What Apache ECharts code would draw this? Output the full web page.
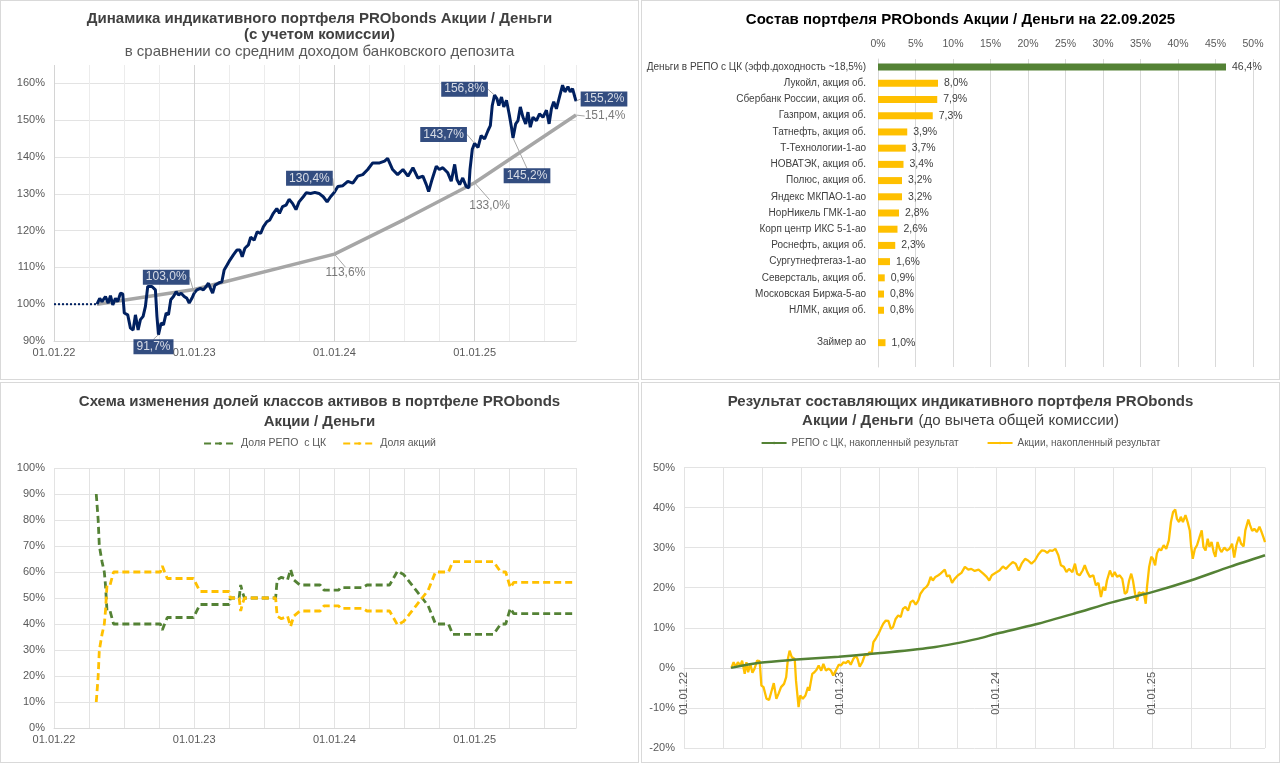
<!DOCTYPE html>
<html>
<head>
  <meta charset="UTF-8">
  <title>PRObonds Акции / Деньги</title>
  <style>
    body { margin: 0; background: #fff; }
    .panel {
      position: absolute;
      box-sizing: border-box;
      border: 1px solid #d9d9d9;
      background: #fff;
    }
    #c1 { left: 0; top: 0; width: 639px; height: 380px; }
    #c2 { left: 641px; top: 0; width: 639px; height: 380px; }
    #c3 { left: 0; top: 382px; width: 639px; height: 381px; }
    #c4 { left: 641px; top: 382px; width: 639px; height: 381px; }
  </style>
  <script src="https://cdn.jsdelivr.net/npm/echarts@6/dist/echarts.min.js"></script>
</head>
<body>
<div id="c1" class="panel"></div>
<div id="c2" class="panel"></div>
<div id="c3" class="panel"></div>
<div id="c4" class="panel"></div>

<script type="text/javascript">
  // ---- данные ----
  // индикативный портфель, % (с учетом комиссии)
  const portfolio = [
    ['2022-04-23', 100.0], ['2022-04-30', 101.6], ['2022-05-06', 100.7], ['2022-05-15', 102.1], ['2022-05-22', 100.3],
    ['2022-05-28', 102.3], ['2022-06-03', 99.8], ['2022-06-10', 101.6], ['2022-06-16', 100.7], ['2022-06-23', 103.0],
    ['2022-06-29', 102.8], ['2022-07-03', 97.6], ['2022-07-12', 97.1], ['2022-07-19', 93.5], ['2022-07-26', 93.0],
    ['2022-08-01', 97.1], ['2022-08-08', 93.0], ['2022-08-14', 95.8], ['2022-08-21', 96.7], ['2022-08-27', 99.4],
    ['2022-09-02', 104.8], ['2022-09-13', 104.8], ['2022-09-22', 103.9], ['2022-09-26', 96.7], ['2022-09-30', 91.7],
    ['2022-10-07', 94.9], ['2022-10-13', 94.4], ['2022-10-20', 97.6], ['2022-10-26', 97.1], ['2022-11-01', 101.2],
    ['2022-11-08', 102.1], ['2022-11-15', 103.4], ['2022-11-21', 102.5], ['2022-11-28', 103.0], ['2022-12-06', 102.1],
    ['2022-12-13', 101.6], ['2022-12-19', 100.3], ['2022-12-26', 101.6], ['2023-01-01', 103.0], ['2023-01-08', 103.9],
    ['2023-01-17', 104.3], ['2023-01-25', 103.9], ['2023-02-01', 104.8], ['2023-02-07', 105.7], ['2023-02-14', 103.9],
    ['2023-02-18', 103.0], ['2023-02-24', 105.2], ['2023-03-05', 105.7], ['2023-03-14', 106.1], ['2023-03-20', 109.3],
    ['2023-03-28', 110.7], ['2023-04-04', 112.0], ['2023-04-13', 113.4], ['2023-04-22', 114.7], ['2023-04-30', 114.7],
    ['2023-05-06', 112.9], ['2023-05-13', 115.2], ['2023-05-22', 116.1], ['2023-05-28', 118.2], ['2023-06-06', 117.4],
    ['2023-06-14', 119.7], ['2023-06-23', 119.2], ['2023-06-30', 121.0], ['2023-07-09', 122.4], ['2023-07-17', 122.9],
    ['2023-07-26', 124.7], ['2023-08-04', 126.0], ['2023-08-11', 124.7], ['2023-08-19', 126.5], ['2023-08-28', 126.9],
    ['2023-09-05', 128.5], ['2023-09-14', 127.4], ['2023-09-23', 125.7], ['2023-10-01', 127.8], ['2023-10-12', 129.2],
    ['2023-10-20', 130.3], ['2023-10-31', 130.1], ['2023-11-11', 130.4], ['2023-11-22', 130.1], ['2023-12-03', 129.2],
    ['2023-12-13', 127.8], ['2023-12-22', 129.2], ['2024-01-01', 130.4], ['2024-01-10', 132.0], ['2024-01-23', 132.2],
    ['2024-02-05', 133.4], ['2024-02-18', 132.9], ['2024-03-02', 134.8], ['2024-03-15', 135.2], ['2024-03-28', 136.6],
    ['2024-04-10', 138.4], ['2024-04-28', 138.4], ['2024-05-11', 138.9], ['2024-05-19', 139.6], ['2024-06-01', 136.6],
    ['2024-06-14', 135.2], ['2024-06-28', 136.6], ['2024-07-11', 134.8], ['2024-07-24', 137.1], ['2024-08-06', 134.3],
    ['2024-08-19', 134.8], ['2024-08-28', 132.5], ['2024-09-03', 130.6], ['2024-09-12', 133.9], ['2024-09-23', 137.5],
    ['2024-10-01', 136.6], ['2024-10-10', 137.1], ['2024-10-23', 135.7], ['2024-11-01', 133.4], ['2024-11-10', 138.0],
    ['2024-11-16', 133.9], ['2024-11-23', 132.5], ['2024-12-01', 134.3], ['2024-12-10', 132.0], ['2024-12-17', 131.6],
    ['2024-12-20', 136.6], ['2024-12-26', 142.1], ['2025-01-01', 143.7], ['2025-01-10', 142.6], ['2025-01-18', 145.8],
    ['2025-01-27', 144.9], ['2025-02-05', 147.2], ['2025-02-11', 148.5], ['2025-02-16', 154.0], ['2025-02-22', 156.8],
    ['2025-02-28', 155.9], ['2025-03-05', 154.0], ['2025-03-12', 156.3], ['2025-03-18', 153.6], ['2025-03-25', 155.4],
    ['2025-04-01', 151.7], ['2025-04-07', 148.1], ['2025-04-11', 145.2], ['2025-04-18', 149.0], ['2025-04-24', 149.9],
    ['2025-04-30', 153.6], ['2025-05-07', 150.8], ['2025-05-14', 149.0], ['2025-05-20', 152.2], ['2025-05-26', 148.1],
    ['2025-06-02', 150.8], ['2025-06-11', 149.9], ['2025-06-19', 151.7], ['2025-06-28', 150.8], ['2025-07-07', 152.7],
    ['2025-07-14', 149.0], ['2025-07-20', 153.1], ['2025-07-26', 155.0], ['2025-08-02', 153.1], ['2025-08-09', 155.9],
    ['2025-08-18', 159.5], ['2025-08-24', 157.7], ['2025-09-01', 159.1], ['2025-09-07', 157.7], ['2025-09-13', 158.6],
    ['2025-09-19', 156.3], ['2025-09-22', 155.2]
  ];
  const beforeStart = [['2022-01-01', 100.0], ['2022-04-23', 100.0]];
  // средний доход банковского депозита
  const deposit = [['2022-04-23', 100.0], ['2023-01-01', 104.0], ['2024-01-01', 113.6], ['2024-07-01', 123.0],
    ['2025-01-01', 133.0], ['2025-09-22', 151.4]];
  const portfolioMarks = [['2022-09-30', 91.7], ['2023-01-01', 103.0], ['2024-01-01', 130.4], ['2025-01-01', 143.7],
    ['2025-02-22', 156.8], ['2025-04-11', 145.2], ['2025-09-22', 155.2]];
  const depositMarks = [['2024-01-01', 113.6], ['2025-01-01', 133.0], ['2025-09-22', 151.4]];

  // состав портфеля на 22.09.2025
  const assets = ['Деньги в РЕПО с ЦК (эфф.доходность ~18,5%)', 'Лукойл, акция об.', 'Сбербанк России, акция об.',
    'Газпром, акция об.', 'Татнефть, акция об.', 'Т-Технологии-1-ао', 'НОВАТЭК, акция об.', 'Полюс, акция об.',
    'Яндекс МКПАО-1-ао', 'НорНикель ГМК-1-ао', 'Корп центр ИКС 5-1-ао', 'Роснефть, акция об.', 'Сургутнефтегаз-1-ао',
    'Северсталь, акция об.', 'Московская Биржа-5-ао', 'НЛМК, акция об.', ' ', 'Займер ао', '  '];
  const shares = [46.4, 8.0, 7.9, 7.3, 3.9, 3.7, 3.4, 3.2, 3.2, 2.8, 2.6, 2.3, 1.6, 0.9, 0.8, 0.8, null, 1.0, null];

  // доли классов активов, %
  const repoShare = [
    ['2022-04-21', 90], ['2022-04-26', 80], ['2022-04-29', 70], ['2022-05-06', 64], ['2022-05-12', 60], ['2022-05-15', 55],
    ['2022-05-19', 45], ['2022-05-27', 45], ['2022-06-05', 40], ['2022-10-05', 40], ['2022-10-10', 37.7], ['2022-10-16', 40],
    ['2022-10-23', 42.5], ['2022-12-30', 42.5], ['2023-01-16', 47.5], ['2023-04-02', 47.5], ['2023-04-05', 50], ['2023-04-28', 50],
    ['2023-05-02', 55], ['2023-05-07', 52], ['2023-05-12', 50], ['2023-08-01', 50], ['2023-08-05', 57], ['2023-08-16', 58],
    ['2023-09-01', 57], ['2023-09-09', 61], ['2023-09-17', 57], ['2023-10-03', 55], ['2023-11-25', 55], ['2023-12-05', 53],
    ['2024-01-12', 53], ['2024-01-17', 54], ['2024-03-15', 54], ['2024-03-26', 55], ['2024-05-24', 55], ['2024-06-14', 60.4],
    ['2024-06-30', 59], ['2024-07-16', 56], ['2024-08-01', 53], ['2024-08-17', 50], ['2024-09-02', 47], ['2024-09-21', 40],
    ['2024-10-25', 40], ['2024-11-05', 36], ['2025-02-19', 36], ['2025-03-10', 40], ['2025-03-23', 40], ['2025-04-04', 46],
    ['2025-04-13', 44], ['2025-09-22', 44]
  ];
  const stockShare = [
    ['2022-04-21', 10], ['2022-04-26', 20], ['2022-04-29', 30], ['2022-05-06', 36], ['2022-05-12', 40], ['2022-05-15', 45],
    ['2022-05-19', 55], ['2022-05-27', 55], ['2022-06-05', 60], ['2022-10-05', 60], ['2022-10-10', 62.3], ['2022-10-16', 60],
    ['2022-10-23', 57.5], ['2022-12-30', 57.5], ['2023-01-16', 52.5], ['2023-04-02', 52.5], ['2023-04-05', 50], ['2023-04-28', 50],
    ['2023-05-02', 45], ['2023-05-07', 48], ['2023-05-12', 50], ['2023-08-01', 50], ['2023-08-05', 43], ['2023-08-16', 42],
    ['2023-09-01', 43], ['2023-09-09', 39], ['2023-09-17', 43], ['2023-10-03', 45], ['2023-11-25', 45], ['2023-12-05', 47],
    ['2024-01-12', 47], ['2024-01-17', 46], ['2024-03-15', 46], ['2024-03-26', 45], ['2024-05-24', 45], ['2024-06-14', 39.6],
    ['2024-06-30', 41], ['2024-07-16', 44], ['2024-08-01', 47], ['2024-08-17', 50], ['2024-09-02', 53], ['2024-09-21', 60],
    ['2024-10-25', 60], ['2024-11-05', 64], ['2025-02-19', 64], ['2025-03-10', 60], ['2025-03-23', 60], ['2025-04-04', 54],
    ['2025-04-13', 56], ['2025-09-22', 56]
  ];

  // накопленный результат составляющих, %
  const repoResult = [['2022-04-21', 0], ['2022-06-27', 1.25], ['2022-09-12', 2.0], ['2022-12-29', 2.8], ['2023-04-06', 3.7],
    ['2023-08-12', 5.2], ['2023-11-21', 7.3], ['2024-01-01', 8.5], ['2024-04-01', 10.8], ['2024-07-01', 13.5],
    ['2024-10-01', 16.4], ['2025-01-01', 18.9], ['2025-04-01', 21.8], ['2025-07-01', 25.2], ['2025-09-22', 28.1]];
  const stockResult = [
    ['2022-04-22', 0], ['2022-04-27', 1.4], ['2022-05-02', 0.2], ['2022-05-07', 1.4], ['2022-05-13', 0.6], ['2022-05-17', 1.8],
    ['2022-05-23', -1.5], ['2022-05-27', 1.4], ['2022-05-31', -1.1], ['2022-06-05', 1.0], ['2022-06-10', -1.2], ['2022-06-15', -0.2],
    ['2022-06-21', 1.8], ['2022-06-27', 1.7], ['2022-07-01', -4.4], ['2022-07-06', -4.8], ['2022-07-13', -7.7], ['2022-07-19', -8.0],
    ['2022-07-24', -6.1], ['2022-07-30', -3.8], ['2022-08-05', -7.7], ['2022-08-10', -6.5], ['2022-08-16', -4.8], ['2022-08-23', -4.0],
    ['2022-08-28', -2.3], ['2022-09-01', 2.2], ['2022-09-05', 4.3], ['2022-09-10', 2.7], ['2022-09-17', 2.2], ['2022-09-20', -3.2],
    ['2022-09-26', -9.8], ['2022-09-30', -6.9], ['2022-10-06', -7.7], ['2022-10-12', -6.9], ['2022-10-18', -4.8], ['2022-10-21', -5.7],
    ['2022-10-28', -1.5], ['2022-11-02', -1.1], ['2022-11-07', -0.5], ['2022-11-12', 0.6], ['2022-11-18', -0.7], ['2022-11-23', 1.0],
    ['2022-11-29', -0.7], ['2022-12-05', -0.2], ['2022-12-11', -0.7], ['2022-12-16', -1.9], ['2022-12-22', -0.7], ['2022-12-29', 0.8],
    ['2023-01-03', 0.6], ['2023-01-09', 1.4], ['2023-01-15', 1.2], ['2023-01-20', 1.8], ['2023-01-26', 0.8], ['2023-02-01', 2.2],
    ['2023-02-07', 3.1], ['2023-02-11', 2.2], ['2023-02-16', 0.3], ['2023-02-22', 1.4], ['2023-03-01', 3.5], ['2023-03-06', 3.1],
    ['2023-03-11', 3.9], ['2023-03-16', 3.5], ['2023-03-20', 6.4], ['2023-03-25', 7.2], ['2023-04-01', 8.5], ['2023-04-06', 9.7],
    ['2023-04-12', 11.0], ['2023-04-18', 11.8], ['2023-04-24', 11.7], ['2023-04-30', 9.7], ['2023-05-05', 10.2], ['2023-05-11', 12.2],
    ['2023-05-17', 13.1], ['2023-05-23', 12.7], ['2023-05-28', 14.7], ['2023-06-03', 15.2], ['2023-06-09', 14.3], ['2023-06-15', 16.4],
    ['2023-06-21', 16.8], ['2023-06-27', 15.8], ['2023-07-03', 16.8], ['2023-07-08', 18.5], ['2023-07-16', 19.7], ['2023-07-22', 20.2],
    ['2023-07-26', 20.8], ['2023-08-01', 22.7], ['2023-08-06', 21.8], ['2023-08-12', 22.7], ['2023-08-19', 23.1], ['2023-08-24', 23.5],
    ['2023-08-28', 23.9], ['2023-09-03', 24.5], ['2023-09-08', 22.8], ['2023-09-14', 23.1], ['2023-09-20', 21.2], ['2023-09-26', 22.2],
    ['2023-10-04', 23.1], ['2023-10-12', 23.7], ['2023-10-20', 25.2], ['2023-10-28', 24.5], ['2023-11-04', 24.7], ['2023-11-12', 24.2],
    ['2023-11-21', 24.5], ['2023-12-02', 23.5], ['2023-12-10', 22.7], ['2023-12-16', 21.8], ['2023-12-22', 23.1], ['2024-01-03', 23.9],
    ['2024-01-09', 24.3], ['2024-01-17', 25.3], ['2024-01-24', 24.7], ['2024-02-01', 25.6], ['2024-02-09', 26.4], ['2024-02-16', 26.0],
    ['2024-02-23', 24.3], ['2024-03-01', 26.0], ['2024-03-09', 27.2], ['2024-03-16', 26.8], ['2024-03-24', 26.0], ['2024-04-01', 26.8],
    ['2024-04-09', 28.3], ['2024-04-17', 29.3], ['2024-04-24', 29.2], ['2024-04-30', 28.7], ['2024-05-06', 29.3], ['2024-05-12', 29.2],
    ['2024-05-19', 29.7], ['2024-05-26', 28.1], ['2024-06-01', 25.6], ['2024-06-08', 25.2], ['2024-06-14', 23.9], ['2024-06-20', 24.7],
    ['2024-06-28', 23.9], ['2024-07-04', 26.0], ['2024-07-09', 23.5], ['2024-07-15', 23.1], ['2024-07-22', 24.3], ['2024-07-27', 25.6],
    ['2024-08-02', 23.9], ['2024-08-08', 22.7], ['2024-08-16', 23.1], ['2024-08-22', 20.6], ['2024-08-28', 21.2], ['2024-09-03', 17.7],
    ['2024-09-08', 20.2], ['2024-09-13', 19.3], ['2024-09-17', 21.8], ['2024-09-24', 24.3], ['2024-09-30', 22.7], ['2024-10-05', 23.9],
    ['2024-10-11', 22.7], ['2024-10-17', 23.1], ['2024-10-23', 22.2], ['2024-10-29', 18.5], ['2024-11-03', 18.9], ['2024-11-08', 21.8],
    ['2024-11-13', 23.5], ['2024-11-17', 21.8], ['2024-11-22', 18.5], ['2024-11-27', 16.8], ['2024-12-01', 18.9], ['2024-12-07', 18.5],
    ['2024-12-12', 18.9], ['2024-12-17', 16.0], ['2024-12-20', 20.2], ['2024-12-25', 25.2], ['2024-12-30', 27.7], ['2025-01-03', 27.2],
    ['2025-01-08', 25.6], ['2025-01-12', 28.5], ['2025-01-17', 29.7], ['2025-01-22', 29.3], ['2025-01-28', 30.6], ['2025-02-03', 29.7],
    ['2025-02-09', 31.8], ['2025-02-14', 36.4], ['2025-02-19', 38.9], ['2025-02-24', 39.5], ['2025-02-28', 37.2], ['2025-03-05', 36.4],
    ['2025-03-09', 37.7], ['2025-03-14', 36.4], ['2025-03-20', 38.1], ['2025-03-25', 36.4], ['2025-03-30', 34.3], ['2025-04-02', 30.6],
    ['2025-04-06', 27.2], ['2025-04-11', 29.7], ['2025-04-16', 30.6], ['2025-04-22', 32.7], ['2025-04-27', 34.3], ['2025-05-01', 30.2],
    ['2025-05-06', 29.3], ['2025-05-11', 32.2], ['2025-05-15', 30.2], ['2025-05-20', 31.4], ['2025-05-25', 28.9], ['2025-05-29', 27.7],
    ['2025-06-03', 31.4], ['2025-06-08', 29.7], ['2025-06-12', 28.9], ['2025-06-19', 30.0], ['2025-06-25', 29.3], ['2025-07-01', 29.7],
    ['2025-07-07', 31.0], ['2025-07-12', 27.5], ['2025-07-17', 30.6], ['2025-07-23', 32.7], ['2025-07-28', 31.0], ['2025-08-03', 30.3],
    ['2025-08-07', 34.3], ['2025-08-14', 37.0], ['2025-08-18', 35.6], ['2025-08-23', 34.2], ['2025-08-28', 34.7], ['2025-09-03', 33.9],
    ['2025-09-09', 35.2], ['2025-09-14', 33.9], ['2025-09-18', 32.7], ['2025-09-22', 31.4]
  ];

  // ---- оформление ----
  const NAVY = '#002060';
  const GREEN = '#548235';
  const GOLD = '#FFC000';
  const GREY_LINE = '#a6a6a6';
  const TXT = '#595959';
  const FONT = "'Liberation Sans', Arial, sans-serif";

  // дата -> доля года (ось X в годах)
  function yr(s) {
    const p = s.split('-').map(Number);
    const a = Date.UTC(p[0], 0, 1), b = Date.UTC(p[0] + 1, 0, 1);
    return p[0] + (Date.UTC(p[0], p[1] - 1, p[2]) - a) / (b - a);
  }
  const toXY = arr => arr.map(d => [yr(d[0]), d[1]]);
  const END = yr('2025-09-22');
  const pct1 = v => v.toFixed(1).replace('.', ',') + '%';
  const yearLabel = v => Math.abs(v - Math.round(v)) < 1e-6 ? '01.01.' + String(Math.round(v)).slice(2) : '';

  function yearAxis(extra) {
    return Object.assign({
      type: 'value', min: 2022, max: END, interval: 0.25,
      axisLine: { lineStyle: { color: '#d9d9d9' } },
      axisTick: { show: false },
      axisLabel: { color: TXT, fontFamily: FONT, fontSize: 11, margin: 6, formatter: yearLabel },
      splitLine: { show: true, lineStyle: { color: ['#d4d4d4', '#ececec', '#ececec', '#ececec'], width: 1 } }
    }, extra || {});
  }
  const titleStyle = { fontFamily: FONT, fontSize: 15, fontWeight: 'bold', color: '#404040' };

  // ===== 1. Динамика портфеля =====
  const chart1 = echarts.init(document.getElementById('c1'));
  const markOffsets1 = [[-5, 12], [-28, -16], [-25, -14], [-31, -9], [-30, -6], [14, 38], [28, -2]];
  const markOffsets2 = [[11, 19], [15, 23], [29, 1]];
  chart1.setOption({
    animation: false,
    title: [
      { text: 'Динамика индикативного портфеля PRObonds Акции / Деньги', left: 'center', top: 5, textStyle: titleStyle },
      { text: '(с учетом комиссии)', left: 'center', top: 21.5, textStyle: titleStyle },
      { text: 'в сравнении со средним доходом банковского депозита', left: 'center', top: 38.5,
        textStyle: { fontFamily: FONT, fontSize: 15, fontWeight: 'normal', color: '#595959' } }
    ],
    grid: { left: 53, right: 62, top: 64, bottom: 38, containLabel: false, outerBoundsMode: 'none' },
    xAxis: yearAxis(),
    yAxis: {
      type: 'value', min: 90, max: 165, interval: 10,
      axisLine: { show: false }, axisTick: { show: false },
      axisLabel: { color: TXT, fontFamily: FONT, fontSize: 11, margin: 9, formatter: v => v > 160 ? '' : v + '%' },
      splitLine: { showMaxLine: false, lineStyle: { color: '#e3e3e3' } }
    },
    series: [
      { type: 'line', data: toXY(deposit), symbol: 'none', z: 2,
        lineStyle: { color: GREY_LINE, width: 3.5 } },
      { type: 'line', data: toXY(beforeStart), symbol: 'none', z: 3,
        lineStyle: { color: NAVY, width: 2, type: 'dotted' } },
      { type: 'line', data: toXY(portfolio), symbol: 'none', z: 3,
        lineStyle: { color: NAVY, width: 3 } },
      { type: 'scatter', data: toXY(portfolioMarks), symbolSize: 1, z: 5,
        itemStyle: { color: NAVY },
        label: { show: true, position: 'inside', formatter: p => pct1(p.value[1]),
          backgroundColor: NAVY, color: '#fff', padding: [2, 3, 1, 3], fontFamily: FONT, fontSize: 12 },
        labelLine: { show: true, lineStyle: { color: GREY_LINE, width: 1 } },
        labelLayout: p => ({ dx: markOffsets1[p.dataIndex][0], dy: markOffsets1[p.dataIndex][1] }) },
      { type: 'scatter', data: toXY(depositMarks), symbolSize: 1, z: 5,
        itemStyle: { color: GREY_LINE },
        label: { show: true, position: 'inside', formatter: p => pct1(p.value[1]),
          color: '#595959', fontFamily: FONT, fontSize: 12 },
        labelLine: { show: true, lineStyle: { color: GREY_LINE, width: 1 } },
        labelLayout: p => ({ dx: markOffsets2[p.dataIndex][0], dy: markOffsets2[p.dataIndex][1] }) }
    ]
  });

  // ===== 2. Состав портфеля =====
  const chart2 = echarts.init(document.getElementById('c2'));
  chart2.setOption({
    animation: false,
    title: { text: 'Состав портфеля PRObonds Акции / Деньги на 22.09.2025', left: 'center', top: 6,
      textStyle: { fontFamily: FONT, fontSize: 15, fontWeight: 'bold', color: '#000' } },
    grid: { left: 236, right: 26, top: 58, bottom: 12, containLabel: false, outerBoundsMode: 'none' },
    xAxis: {
      type: 'value', position: 'top', min: 0, max: 50, interval: 5,
      axisLine: { show: false }, axisTick: { show: false },
      axisLabel: { color: TXT, fontFamily: FONT, fontSize: 10.5, margin: 9, formatter: '{value}%' },
      splitLine: { lineStyle: { color: '#d9d9d9' } }
    },
    yAxis: {
      type: 'category', inverse: true, data: assets,
      axisLine: { lineStyle: { color: '#d9d9d9' } }, axisTick: { show: false },
      axisLabel: { color: '#404040', fontFamily: FONT, fontSize: 10, margin: 12 }
    },
    series: [{
      type: 'bar', data: shares, barWidth: 7,
      itemStyle: { color: p => p.dataIndex === 0 ? GREEN : GOLD },
      label: { show: true, position: 'right', distance: 6, color: '#404040', fontFamily: FONT, fontSize: 10.5,
        formatter: p => p.value == null ? '' : pct1(p.value) }
    }]
  });

  // ===== 3. Доли классов активов =====
  const chart3 = echarts.init(document.getElementById('c3'));
  chart3.setOption({
    animation: false,
    title: [
      { text: 'Схема изменения долей классов активов в портфеле PRObonds', left: 'center', top: 6, textStyle: titleStyle },
      { text: 'Акции / Деньги', left: 'center', top: 26, textStyle: titleStyle }
    ],
    legend: {
      top: 50, left: 'center', itemWidth: 32, itemHeight: 3, itemGap: 16,
      textStyle: { color: TXT, fontFamily: FONT, fontSize: 10.5 },
      data: ['Доля РЕПО  с ЦК', 'Доля акций']
    },
    grid: { left: 53, right: 62, top: 85, bottom: 34, containLabel: false, outerBoundsMode: 'none' },
    xAxis: yearAxis({ splitLine: { show: true, lineStyle: { color: '#e3e3e3' } } }),
    yAxis: {
      type: 'value', min: 0, max: 100, interval: 10,
      axisLine: { show: false }, axisTick: { show: false },
      axisLabel: { color: TXT, fontFamily: FONT, fontSize: 11, margin: 9, formatter: '{value}%' },
      splitLine: { lineStyle: { color: '#e3e3e3' } }
    },
    series: [
      { name: 'Доля РЕПО  с ЦК', type: 'line', data: toXY(repoShare), symbol: 'none',
        itemStyle: { color: GREEN }, lineStyle: { color: GREEN, width: 2.8, type: [7, 4] } },
      { name: 'Доля акций', type: 'line', data: toXY(stockShare), symbol: 'none',
        itemStyle: { color: GOLD }, lineStyle: { color: GOLD, width: 2.8, type: [7, 4] } }
    ]
  });

  // ===== 4. Результат составляющих =====
  const chart4 = echarts.init(document.getElementById('c4'));
  chart4.setOption({
    animation: false,
    title: [
      { text: 'Результат составляющих индикативного портфеля PRObonds', left: 'center', top: 6, textStyle: titleStyle },
      { text: '{b|Акции / Деньги} {n|(до вычета общей комиссии)}', left: 'center', top: 24,
        textStyle: { rich: {
          b: { fontFamily: FONT, fontSize: 15, fontWeight: 'bold', color: '#404040' },
          n: { fontFamily: FONT, fontSize: 15, fontWeight: 'normal', color: '#404040' }
        } } }
    ],
    legend: {
      top: 50, left: 'center', itemWidth: 25, itemHeight: 3, itemGap: 28,
      textStyle: { color: TXT, fontFamily: FONT, fontSize: 10 },
      data: ['РЕПО с ЦК, накопленный результат', 'Акции, накопленный результат']
    },
    grid: { left: 42, right: 14, top: 84.5, bottom: 14, containLabel: false, outerBoundsMode: 'none' },
    xAxis: yearAxis({
      // подписи дат у нулевой линии, как в исходнике
      offset: -80,
      axisLine: { onZero: false, lineStyle: { color: '#d9d9d9' } },
      axisLabel: { color: TXT, fontFamily: FONT, fontSize: 11, margin: 4, rotate: 90, formatter: yearLabel },
      splitLine: { show: true, lineStyle: { color: '#e3e3e3' } }
    }),
    yAxis: {
      type: 'value', min: -20, max: 50, interval: 10,
      axisLine: { show: false }, axisTick: { show: false },
      axisLabel: { color: TXT, fontFamily: FONT, fontSize: 11, margin: 9, formatter: '{value}%' },
      splitLine: { lineStyle: { color: '#e3e3e3' } }
    },
    series: [
      { name: 'РЕПО с ЦК, накопленный результат', type: 'line', data: toXY(repoResult), symbol: 'none', smooth: 0.3,
        itemStyle: { color: GREEN }, lineStyle: { color: GREEN, width: 2.5 }, z: 3 },
      { name: 'Акции, накопленный результат', type: 'line', data: toXY(stockResult), symbol: 'none',
        itemStyle: { color: GOLD }, lineStyle: { color: GOLD, width: 2.3 }, z: 2 }
    ]
  });
</script>
</body>
</html>
